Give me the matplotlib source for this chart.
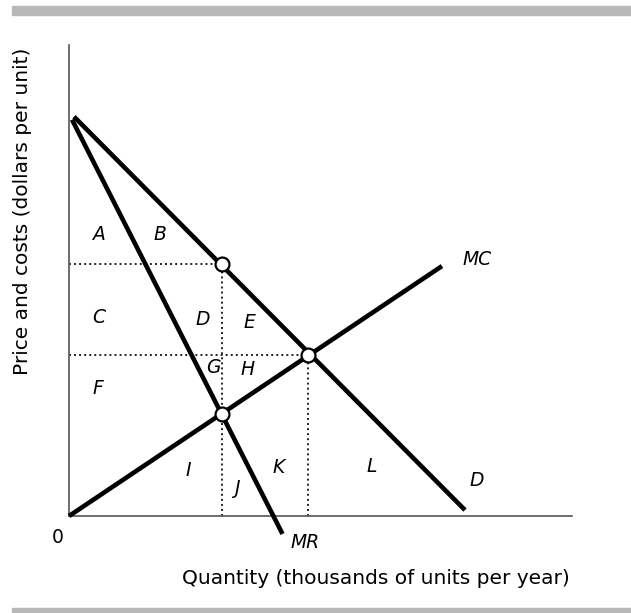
import matplotlib.pyplot as plt
from matplotlib.patches import Rectangle

# curve end points (quantity, price) in chart units
demand_q = [0.10, 7.92]
demand_p = [8.02, 0.12]
mr_q = [0.06, 4.27]
mr_p = [7.96, -0.36]
mc_q = [0.0, 7.46]
mc_p = [0.0, 5.02]

# highlighted points: monopoly price on D, competitive eq., MR = MC
point_q = [3.05, 4.79, 3.05]
point_p = [5.06, 3.24, 2.05]

# area labels
area_names = ["A", "B", "C", "D", "E", "F", "G", "H", "I", "J", "K", "L"]
area_q = [0.60, 1.82, 0.60, 2.68, 3.60, 0.58, 2.88, 3.58, 2.38, 3.36, 4.20, 6.06]
area_p = [5.66, 5.66, 3.98, 3.94, 3.88, 2.56, 2.98, 2.94, 0.92, 0.56, 0.98, 1.00]

curve_names = ["MC", "D", "MR"]
curve_q = [8.16, 8.16, 4.72]
curve_p = [5.16, 0.72, -0.54]

x_title = "Quantity (thousands of units per year)"
y_title = "Price and costs (dollars per unit)"

fig = plt.figure(figsize=(6.31, 6.13), dpi=100)
ax = fig.add_axes([0.1094, 0.1582, 0.797, 0.7684])
ax.set_xlim(0, 10.06)
ax.set_ylim(0, 9.46)

for side in ["top", "right"]:
    ax.spines[side].set_visible(False)
for side in ["left", "bottom"]:
    ax.spines[side].set_color("#555555")
    ax.spines[side].set_linewidth(1.2)
ax.set_xticks([])
ax.set_yticks([])

# dotted guides
dot = dict(color="#222222", linestyle=(0, (1, 1.6)), linewidth=1.4, zorder=2)
ax.plot([0, point_q[0]], [point_p[0], point_p[0]], **dot)
ax.plot([point_q[0], point_q[0]], [0, point_p[0]], **dot)
ax.plot([0, point_q[1]], [point_p[1], point_p[1]], **dot)
ax.plot([point_q[1], point_q[1]], [0, point_p[1]], **dot)

thick = dict(color="black", linewidth=3.3, solid_capstyle="butt", zorder=3, clip_on=False)
ax.plot(demand_q, demand_p, **thick)
ax.plot(mr_q, mr_p, **thick)
ax.plot(mc_q, mc_p, **thick)

ax.plot(point_q, point_p, "o", markersize=10, markerfacecolor="white",
        markeredgecolor="black", markeredgewidth=1.6, zorder=4)

for name, q, p in zip(area_names, area_q, area_p):
    ax.text(q, p, name, fontsize=13.5, style="italic", ha="center", va="center")

for name, q, p in zip(curve_names, curve_q, curve_p):
    ax.text(q, p, name, fontsize=13.5, style="italic", ha="center", va="center",
            clip_on=False)

ax.text(-0.22, -0.44, "0", fontsize=13.5, ha="center", va="center", clip_on=False)

fig.text(0.596, 0.057, x_title, fontsize=14.5, ha="center", va="center")
fig.text(0.036, 0.656, y_title, fontsize=14.5, ha="center", va="center", rotation=90)

# grey rules above and below the figure
fig.add_artist(Rectangle((0.019, 1 - 15 / 613), 0.981, 9 / 613,
                         transform=fig.transFigure, color="#b8b8b8"))
fig.add_artist(Rectangle((0.019, 0), 0.981, 5 / 613,
                         transform=fig.transFigure, color="#b8b8b8"))

fig.savefig("out.png", dpi=100)
